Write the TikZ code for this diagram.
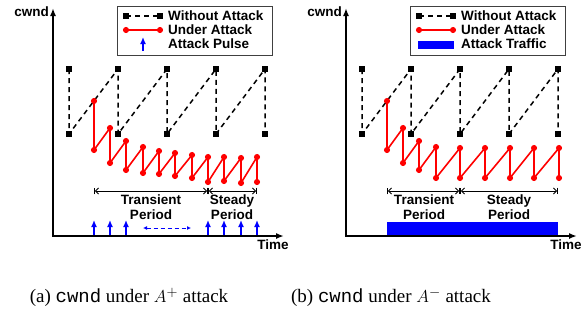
\documentclass[tikz,border=0pt]{standalone}
\usepackage{fontspec}
\setmainfont{Liberation Serif}
\setsansfont{Liberation Sans}
\setmonofont{Liberation Mono}
\usetikzlibrary{arrows.meta,plotmarks}

\tikzset{
  lbl/.style={font=\sffamily\bfseries\fontsize{13.5}{15}\selectfont, inner sep=0pt},
  caption/.style={font=\fontsize{19}{22}\selectfont, inner sep=0pt},
  legendbox/.style={draw=black!75, line width=0.9pt, fill=white},
  axis/.style={line width=1.7pt, {Latex[length=8pt,width=6pt]}-{Latex[length=8pt,width=6pt]}},
  noattack/.style={line width=1.5pt, dash pattern=on 5pt off 4pt, mark=square*, mark size=2pt, mark options={solid, fill=black}},
  attack/.style={red, line width=1.6pt, mark=*, mark size=2.2pt, mark options={solid, fill=red}},
  pulse/.style={blue, line width=1.4pt, -{Latex[length=7pt,width=6pt]}},
  period/.style={line width=0.9pt, >={Straight Barb[length=3pt,width=6pt]}, |<->|}
}

\begin{document}
\begin{tikzpicture}[x=1pt, y=-1pt]
\useasboundingbox (0,0) rectangle (586,322);

% (a) cwnd under A+ attack
\coordinate (topA) at (53,8);
\coordinate (originA) at (53,236);
\coordinate (rightA) at (284,236);
\draw[axis] (topA) -- (originA) -- (rightA);
\node[lbl, anchor=east] (cwndA) at (49,12) {cwnd};
\node[lbl] (timeA) at (273,245) {Time};

% legend
\node[legendbox, minimum width=155, minimum height=49] (legendA) at (194.5,30.5) {};
\draw[noattack] plot coordinates {(126,16) (160,16)};
\node[lbl, anchor=west] (withoutA) at (168,16) {Without Attack};
\draw[attack] plot coordinates {(126,30) (160,30)};
\node[lbl, anchor=west] (underA) at (168,30) {Under Attack};
\draw[pulse] (143,51) -- (143,37);
\node[lbl, anchor=west] (pulsetextA) at (168,44) {Attack Pulse};

% sawtooth without attack
\draw[noattack] plot coordinates {(69,69) (69,134) (118,69) (118,134) (167,69) (167,134)
    (216,69) (216,134) (265,69) (265,134)};

% sawtooth under attack
\draw[attack] plot coordinates {(94,101) (94,150) (110,128) (110,163) (126,141) (126,170)
    (143,147) (143,173) (159,151) (159,174) (175,153) (175,176) (192,155) (192,178)
    (208,157) (208,182) (224,157) (224,181) (241,158) (241,183) (257,157) (257,182)};

% periods
\coordinate (transA) at (94,191);
\coordinate (steadyA) at (208,191);
\coordinate (endA) at (257,191);
\draw[period] (transA) -- (steadyA);
\draw[period] (steadyA) -- (endA);
\node[lbl, align=center] (transtextA) at (151,207) {Transient\\Period};
\node[lbl, align=center] (steadytextA) at (232,207) {Steady\\Period};

% attack pulses
\foreach \x in {94,110,126,208,224,241,257}
    \draw[pulse] (\x,235) -- (\x,220);
\draw[blue, line width=0.8pt, dash pattern=on 4pt off 3pt, {Latex[length=4pt,width=4pt]}-{Latex[length=4pt,width=4pt]}] (143,228) -- (191,228);

% (b) cwnd under A- attack
\begin{scope}[xshift=293pt]
\coordinate (topB) at (53,8);
\coordinate (originB) at (53,236);
\coordinate (rightB) at (284,236);
\draw[axis] (topB) -- (originB) -- (rightB);
\node[lbl, anchor=east] (cwndB) at (49,12) {cwnd};
\node[lbl] (timeB) at (273,245) {Time};

% legend
\node[legendbox, minimum width=155, minimum height=49] (legendB) at (194.5,30.5) {};
\draw[noattack] plot coordinates {(126,16) (160,16)};
\node[lbl, anchor=west] (withoutB) at (168,16) {Without Attack};
\draw[attack] plot coordinates {(126,30) (160,30)};
\node[lbl, anchor=west] (underB) at (168,30) {Under Attack};
\fill[blue] (125,41) rectangle (161,49);
\node[lbl, anchor=west] (traffictextB) at (168,44) {Attack Traffic};

% sawtooth without attack
\draw[noattack] plot coordinates {(69,69) (69,134) (118,69) (118,134) (167,69) (167,134)
    (216,69) (216,134) (265,69) (265,134)};

% sawtooth under attack
\draw[attack] plot coordinates {(94,101) (94,150) (110,128) (110,163) (126,141) (126,170)
    (143,147) (143,178) (167,148) (167,178) (192,148) (192,178) (217,148) (217,178)
    (241,148) (241,178) (266,148) (266,178)};

% periods
\coordinate (transB) at (94,191);
\coordinate (steadyB) at (167,191);
\coordinate (endB) at (265,191);
\draw[period] (transB) -- (steadyB);
\draw[period] (steadyB) -- (endB);
\node[lbl, align=center] (transtextB) at (131,207) {Transient\\Period};
\node[lbl, align=center] (steadytextB) at (216,207) {Steady\\Period};

% attack traffic
\fill[blue] (94,222) rectangle (265,235);
\end{scope}

% captions
\node[caption] (capA) at (129,297) {(a) \texttt{cwnd} under $A^{+}$ attack};
\node[caption] (capB) at (391,297) {(b) \texttt{cwnd} under $A^{-}$ attack};
\end{tikzpicture}
\end{document}
